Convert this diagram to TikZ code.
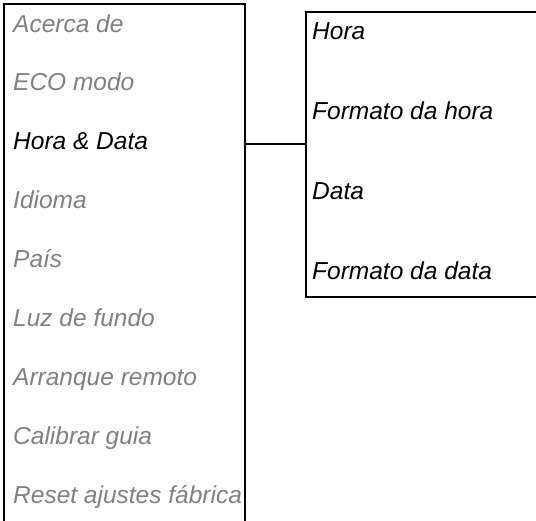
\documentclass[tikz,border=0pt]{standalone}
\usepackage{fontspec}
\setmainfont{Liberation Sans}
\definecolor{itemgray}{RGB}{128,128,128}
\begin{document}
\begin{tikzpicture}[x=1pt,y=1pt,
  box/.style={draw=black,line width=1.4pt,inner sep=0pt,outer sep=0pt,anchor=north west},
  item/.style={anchor=base west,inner sep=0pt,font=\fontsize{24.5}{29}\selectfont\itshape},
  off/.style={item,text=itemgray},
  on/.style={item,text=black}]
\useasboundingbox (0,0) rectangle (536,-520);
\clip (0,0) rectangle (536,-520);
\node[box,minimum width=241pt,minimum height=540pt] (L) at (4,-4) {};
\node[box,minimum width=245pt,minimum height=285pt] (R) at (306,-12) {};
\node[off] (i1) at (13,-32) {Acerca de};
\node[off] (i2) at (13,-90.9) {ECO modo};
\node[on]  (i3) at (13,-149.8) {Hora \& Data};
\node[off] (i4) at (13,-208.7) {Idioma};
\node[off] (i5) at (13,-267.6) {País};
\node[off] (i6) at (13,-326.5) {Luz de fundo};
\node[off] (i7) at (13,-385.4) {Arranque remoto};
\node[off] (i8) at (13,-444.3) {Calibrar guia};
\node[off] (i9) at (13,-503.2) {Reset ajustes fábrica};
\node[on] (s1) at (312,-39) {Hora};
\node[on] (s2) at (312,-119) {Formato da hora};
\node[on] (s3) at (312,-199.5) {Data};
\node[on] (s4) at (312,-279) {Formato da data};
\coordinate (c) at (0,-144);
\draw[line width=1.4pt] (c -| L.east) -- (c -| R.west);
\end{tikzpicture}
\end{document}
